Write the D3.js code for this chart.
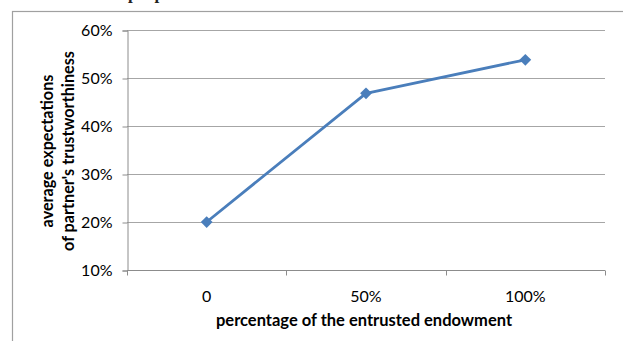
<!DOCTYPE html>
<html>
<head>
<meta charset="utf-8">
<script src="https://cdn.jsdelivr.net/npm/d3@7"></script>
<style>
  html, body { margin: 0; padding: 0; background: #fff; }
  svg { display: block; }
</style>
</head>
<body>
<svg id="chart" width="623" height="341"></svg>
<script>
// Data
const categories = ["0", "50%", "100%"];
const expectations = [0.20, 0.468, 0.538];
const yTicks = [0.1, 0.2, 0.3, 0.4, 0.5, 0.6];
const xTitle = "percentage of the entrusted endowment";
const yTitleLines = ["average expectations", "of partner's trustworthiness"];
const captionText = "ations and the proportion of the entrusted endowment";

const svg = d3.select("#chart");
const font = "Lato, 'Open Sans', sans-serif";

// caption sitting above the chart frame (mostly cut off)
svg.append("text")
  .attr("x", 14).attr("y", -1)
  .attr("font-family", "'Liberation Serif', serif")
  .attr("font-weight", "bold").attr("font-size", 17)
  .attr("fill", "#222")
  .attr("textLength", 418)
  .text(captionText);

// chart frame
svg.append("rect")
  .attr("x", 12.5).attr("y", 11.5)
  .attr("width", 640).attr("height", 360)
  .attr("fill", "none").attr("stroke", "#a0a0a0").attr("stroke-width", 1.2);

const plot = { left: 127, right: 605, top: 30, bottom: 270 };

const x = d3.scaleBand().domain(categories).range([plot.left, plot.right]);
const y = d3.scaleLinear().domain([0.1, 0.6]).range([plot.bottom, plot.top]);

// gridlines
svg.append("g")
  .selectAll("line").data(yTicks.slice(1)).join("line")
  .attr("x1", plot.left).attr("x2", plot.right)
  .attr("y1", d => Math.round(y(d)) + 0.5).attr("y2", d => Math.round(y(d)) + 0.5)
  .attr("stroke", "#a6a6a6").attr("stroke-width", 1.2);

// y axis
const yAxis = d3.axisLeft(y).tickValues(yTicks)
  .tickFormat(d3.format(".0%")).tickSize(5).tickPadding(10);
const gy = svg.append("g").attr("transform", `translate(${plot.left + 0.5},0.5)`).call(yAxis);
gy.select(".domain").attr("stroke", "#8c8c8c");
gy.selectAll(".tick line").attr("stroke", "#8c8c8c");
gy.selectAll(".tick text").attr("font-family", font).attr("font-size", 16).attr("fill", "#000");

// x axis: ticks on band boundaries, labels at band centres
const gx = svg.append("g").attr("transform", `translate(0,${plot.bottom + 0.5})`);
gx.append("line").attr("x1", plot.left).attr("x2", plot.right)
  .attr("stroke", "#8c8c8c");
const bounds = categories.map(c => x(c)).concat([plot.right]);
gx.selectAll("line.tk").data(bounds).join("line").attr("class", "tk")
  .attr("x1", d => Math.round(d) + 0.5).attr("x2", d => Math.round(d) + 0.5)
  .attr("y1", 0).attr("y2", 5).attr("stroke", "#8c8c8c");
gx.selectAll("text").data(categories).join("text")
  .attr("x", d => x(d) + x.bandwidth() / 2).attr("y", 31)
  .attr("text-anchor", "middle")
  .attr("font-family", font).attr("font-size", 16).attr("fill", "#000")
  .text(d => d);

// axis titles
svg.append("text")
  .attr("x", (plot.left + plot.right) / 2 - 2).attr("y", 326)
  .attr("text-anchor", "middle")
  .attr("font-family", font).attr("font-weight", "bold").attr("font-size", 16.5)
  .text(xTitle);

const yt = svg.append("text")
  .attr("transform", "translate(53,151) rotate(-90)")
  .attr("text-anchor", "middle")
  .attr("font-family", font).attr("font-weight", "bold").attr("font-size", 16.2);
yt.selectAll("tspan").data(yTitleLines).join("tspan")
  .attr("x", 0).attr("dy", (d, i) => i === 0 ? 0 : 21)
  .text(d => d);

// series line + diamond markers
const pts = categories.map((c, i) => [x(c) + x.bandwidth() / 2, y(expectations[i])]);
svg.append("path")
  .attr("d", d3.line()(pts))
  .attr("fill", "none").attr("stroke", "#4a7ebb").attr("stroke-width", 2.8)
  .attr("stroke-linejoin", "round");
svg.append("g").selectAll("path").data(pts).join("path")
  .attr("transform", d => `translate(${d[0]},${d[1]})`)
  .attr("d", d3.symbol(d3.symbolDiamond2, 88)())
  .attr("fill", "#4a7ebb");
</script>
</body>
</html>
